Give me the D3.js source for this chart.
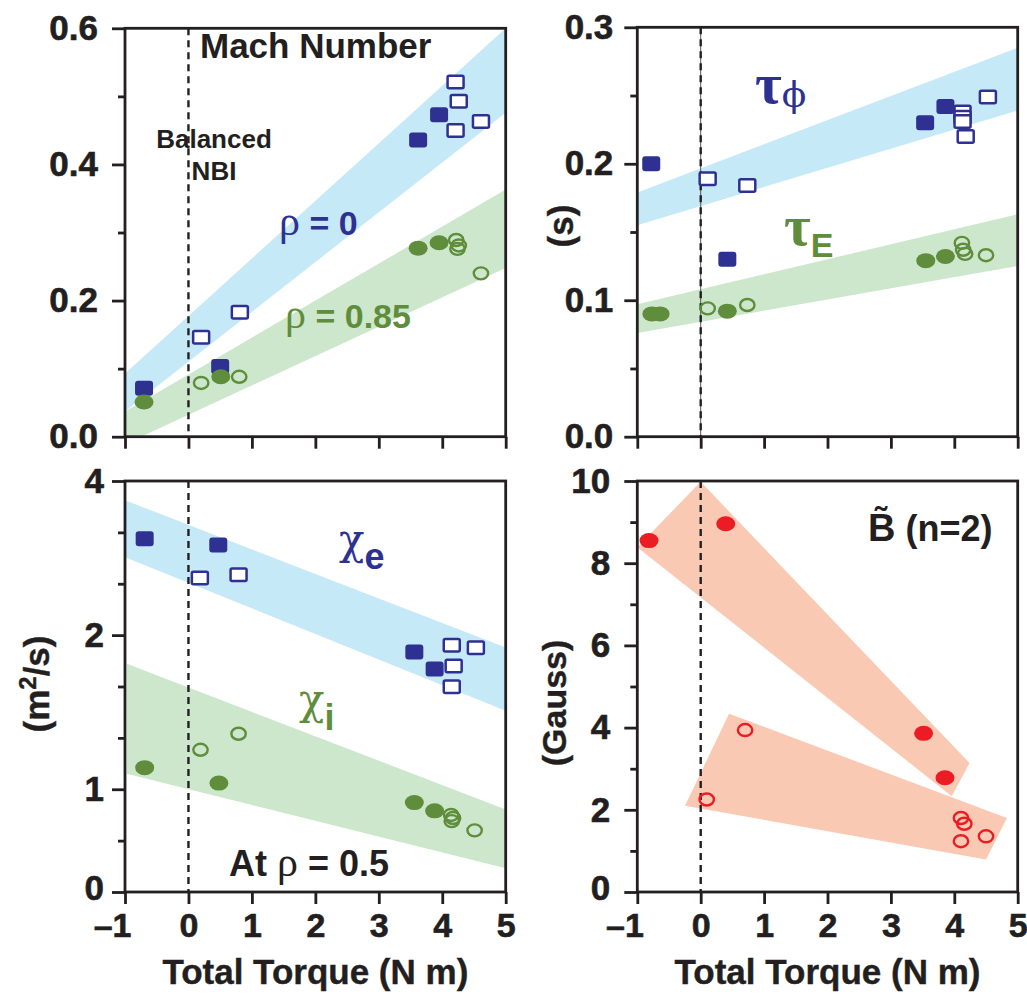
<!DOCTYPE html>
<html>
<head>
<meta charset="utf-8">
<script src="https://cdn.jsdelivr.net/npm/d3@7"></script>
<style>
  html, body { margin: 0; padding: 0; background: #fff; }
  svg { display: block; }
</style>
</head>
<body>
<svg id="chart" width="1027" height="1005"></svg>
<script>
// ---------- shared axis values ----------
const xTicks = [-1, 0, 1, 2, 3, 4, 5];

// ---------- Mach number (top left) ----------
const machYMajor = [0, 0.2, 0.4, 0.6];
const machYMinor = [0.1, 0.3, 0.5];
const machCoreFilledX = [-0.70, 0.50, 3.62, 3.95];
const machCoreFilledY = [0.071, 0.103, 0.436, 0.473];
const machCoreOpenX = [0.20, 0.81, 4.21, 4.26, 4.21, 4.61];
const machCoreOpenY = [0.146, 0.183, 0.521, 0.493, 0.450, 0.463];
const machEdgeFilledX = [-0.70, 0.51, 3.62, 3.95];
const machEdgeFilledY = [0.051, 0.088, 0.277, 0.285];
const machEdgeOpenX = [0.20, 0.80, 4.22, 4.26, 4.24, 4.61];
const machEdgeOpenY = [0.079, 0.088, 0.289, 0.281, 0.276, 0.240];
const machCoreBand = [[-1, 0.093], [5, 0.600], [5, 0.476], [-1, 0.037]];
const machEdgeBand = [[-1, 0.037], [5, 0.363], [5, 0.248], [-1, -0.011]];

// ---------- confinement times (top right) ----------
const tauYMajor = [0, 0.1, 0.2, 0.3];
const tauYMinor = [0.05, 0.15, 0.25];
const tauPhiFilledX = [-0.78, 0.42, 3.54, 3.86];
const tauPhiFilledY = [0.200, 0.130, 0.230, 0.242];
const tauPhiOpenX = [0.11, 0.735, 4.13, 4.13, 4.13, 4.18, 4.53];
const tauPhiOpenY = [0.189, 0.184, 0.238, 0.234, 0.231, 0.220, 0.249];
const tauEFilledX = [-0.77, -0.64, 0.42, 3.55, 3.86];
const tauEFilledY = [0.090, 0.090, 0.092, 0.129, 0.132];
const tauEOpenX = [0.11, 0.735, 4.12, 4.14, 4.17, 4.50];
const tauEOpenY = [0.094, 0.0965, 0.142, 0.137, 0.134, 0.133];
const tauPhiBand = [[-1, 0.179], [5, 0.285], [5, 0.239], [-1, 0.155]];
const tauEBand = [[-1, 0.097], [5, 0.163], [5, 0.125], [-1, 0.076]];

// ---------- diffusivities at rho = 0.5 (bottom left) ----------
const chiYMajor = [0, 1, 2, 4];
const chiYMinor = [0.5, 4 / 3, 5 / 3, 8 / 3, 10 / 3];
const chiEFilledX = [-0.69, 0.47, 3.56, 3.88];
const chiEFilledY = [3.25, 3.17, 1.89, 1.78];
const chiEOpenX = [0.18, 0.79, 4.15, 4.53, 4.18, 4.15];
const chiEOpenY = [2.74, 2.785, 1.935, 1.918, 1.80, 1.665];
const chiIFilledX = [-0.69, 0.48, 3.56, 3.88];
const chiIFilledY = [1.14, 1.04, 0.87, 0.79];
const chiIOpenX = [0.19, 0.79, 4.14, 4.17, 4.15, 4.51];
const chiIOpenY = [1.256, 1.36, 0.75, 0.72, 0.69, 0.60];
const chiEBand = [[-1, 3.75], [5, 1.92], [5, 1.51], [-1, 3.01]];
const chiIBand = [[-0.97, 1.814], [5, 0.803], [5, 0.23], [-0.97, 1.10]];

// ---------- n=2 mode amplitude (bottom right) ----------
const gaussYMajor = [0, 2, 4, 6, 8, 10];
const gaussYMinor = [1, 3, 5, 7, 9];
const modeFilledX = [-0.815, 0.395, 3.516, 3.853];
const modeFilledY = [8.55, 8.96, 3.86, 2.78];
const modeOpenX = [0.095, 0.70, 4.105, 4.158, 4.105, 4.50];
const modeOpenY = [2.25, 3.94, 1.80, 1.66, 1.236, 1.355];
const modeUpperBand = [[-1.0, 8.39], [0.0, 9.98], [4.24, 3.14], [3.96, 2.33]];
const modeLowerBand = [[0.447, 4.34], [4.83, 1.80], [4.50, 0.79], [-0.247, 2.10]];

// ---------- styling ----------
const INK = "#231f20";
const BLUE = "#2e3192";
const GREEN = "#5f8d3b";
const RED = "#ec1c24";
const BAND_BLUE = "#c6e9f8";
const BAND_GREEN = "#cde7cc";
const BAND_RED = "#f9c9b3";
const SANS = "'Liberation Sans', Arial, Helvetica, sans-serif";
const SERIF = "'Liberation Serif', 'Times New Roman', serif";
const GREEK = "'DejaVu Serif', 'Liberation Serif', serif";

const svg = d3.select("#chart");

const fmtX = v => (v < 0 ? "\u2013" + Math.abs(v) : String(v));

function makePanel(id, left, right, top, bottom, y) {
  const x = d3.scaleLinear().domain([-1, 5]).range([left, right]);
  svg.append("clipPath").attr("id", "clip-" + id)
    .append("rect").attr("x", left).attr("y", top)
    .attr("width", right - left).attr("height", bottom - top);
  const g = svg.append("g");
  const bands = g.append("g").attr("clip-path", `url(#clip-${id})`);
  const marks = g.append("g").attr("clip-path", `url(#clip-${id})`);
  const over = g.append("g");
  return { id, x, y, g, bands, marks, over, left, right, top, bottom };
}

function band(p, pts, color) {
  const line = d3.line().x(d => p.x(d[0])).y(d => p.y(d[1]));
  p.bands.append("path").attr("d", line(pts) + "Z").attr("fill", color);
}

function zeroLine(p, underlay) {
  if (underlay) {
    p.marks.append("line")
      .attr("x1", p.x(0)).attr("x2", p.x(0)).attr("y1", p.top).attr("y2", p.bottom)
      .attr("stroke", "#555").attr("stroke-width", 1);
  }
  p.marks.append("line")
    .attr("x1", p.x(0)).attr("x2", p.x(0)).attr("y1", p.top).attr("y2", p.bottom)
    .attr("stroke", INK).attr("stroke-width", 2.4).attr("stroke-dasharray", "7,5");
}

function squares(p, xs, ys, color, filled) {
  const data = d3.zip(xs, ys);
  const w = filled ? 18 : 16, h = filled ? 15 : 12.5;
  p.marks.selectAll(null).data(data).join("rect")
    .attr("x", d => p.x(d[0]) - w / 2).attr("y", d => p.y(d[1]) - h / 2)
    .attr("width", w).attr("height", h).attr("rx", filled ? 3 : 1.5)
    .attr("fill", filled ? color : "#fff")
    .attr("stroke", filled ? "none" : color).attr("stroke-width", 2.5);
}

function dots(p, xs, ys, color, filled) {
  const data = d3.zip(xs, ys);
  p.marks.selectAll(null).data(data).join("ellipse")
    .attr("cx", d => p.x(d[0])).attr("cy", d => p.y(d[1]))
    .attr("rx", filled ? 9.5 : 7.2).attr("ry", filled ? 7.5 : 6)
    .attr("fill", filled ? color : "none")
    .attr("stroke", filled ? "none" : color).attr("stroke-width", 2.4);
}

function axes(p, major, minor, fmt, pad, xLabels) {
  const ax = p.over;
  ax.append("rect")
    .attr("x", p.left).attr("y", p.top)
    .attr("width", p.right - p.left).attr("height", p.bottom - p.top)
    .attr("fill", "none").attr("stroke", INK).attr("stroke-width", 2.8);

  const yg = ax.append("g").attr("transform", `translate(${p.left},0)`)
    .call(d3.axisLeft(p.y).tickValues(major).tickSize(13).tickSizeOuter(0)
      .tickPadding(pad).tickFormat(fmt));
  yg.select(".domain").remove();

  const ym = ax.append("g").attr("transform", `translate(${p.left},0)`)
    .call(d3.axisLeft(p.y).tickValues(minor).tickSize(7).tickSizeOuter(0).tickFormat(""));
  ym.select(".domain").remove();

  const xg = ax.append("g").attr("transform", `translate(0,${p.bottom})`)
    .call(d3.axisBottom(p.x).tickValues(xTicks).tickSize(12).tickSizeOuter(0)
      .tickFormat(xLabels ? fmtX : ""));
  xg.select(".domain").remove();

  ax.selectAll(".tick line").attr("stroke", INK).attr("stroke-width", 2.8);
  ax.selectAll(".tick text")
    .attr("font-family", SANS).attr("font-weight", "bold")
    .attr("font-size", 35).attr("fill", INK)
    .attr("stroke", INK).attr("stroke-width", 0.6);
  if (xLabels) {
    // the zero label sits a little above its tick where it meets the torque labels
    yg.selectAll(".tick text").filter(d => d === 0).attr("dy", "0.2em");
  }
  xg.selectAll(".tick text").attr("font-size", 34).attr("y", 45).attr("dy", 0);
  xg.selectAll(".tick text").filter(d => d < 0).attr("text-anchor", "end").attr("x", 6);
}

function label(g, x, y, color, parts, anchor) {
  const t = g.append("text").attr("x", x).attr("y", y).attr("fill", color)
    .attr("text-anchor", anchor || "start");
  parts.forEach(([s, font, size, weight, dy]) => {
    t.append("tspan").attr("font-family", font).attr("font-size", size)
      .attr("font-weight", weight).attr("dy", dy || 0).text(s);
  });
  return t;
}

function yTitle(g, cx, cy, size, build) {
  const t = g.append("text")
    .attr("transform", `translate(${cx + 0.26 * size},${cy}) rotate(-90)`)
    .attr("text-anchor", "middle").attr("fill", INK)
    .attr("font-family", SANS).attr("font-weight", "bold").attr("font-size", size)
    .attr("stroke", INK).attr("stroke-width", 0.4);
  build(t);
}

// ---------- layout ----------
const L0 = 125, L1 = 505.7, R0 = 637.3, R1 = 1017.7;
const T0 = 28.3, T1 = 436.7, B0 = 481, B1 = 892;

// ---------- top left: Mach number ----------
const pMach = makePanel("mach", L0, L1, T0, T1,
  d3.scaleLinear().domain([0, 0.6]).range([T1, T0]));
band(pMach, machCoreBand, BAND_BLUE);
band(pMach, machEdgeBand, BAND_GREEN);
zeroLine(pMach, false);
squares(pMach, machCoreFilledX, machCoreFilledY, BLUE, true);
squares(pMach, machCoreOpenX, machCoreOpenY, BLUE, false);
dots(pMach, machEdgeFilledX, machEdgeFilledY, GREEN, true);
dots(pMach, machEdgeOpenX, machEdgeOpenY, GREEN, false);
axes(pMach, machYMajor, machYMinor, d3.format(".1f"), 14, false);
label(pMach.over, 200, 58, INK, [["Mach Number", SANS, 35, "bold"]]);
label(pMach.over, 214, 148, INK, [["Balanced", SANS, 26, "bold"]], "middle");
label(pMach.over, 214, 180, INK, [["NBI", SANS, 26, "bold"]], "middle");
label(pMach.over, 279, 235, BLUE, [["\u03c1", SERIF, 42, "normal"], [" = 0", SANS, 34, "bold"]]);
label(pMach.over, 285, 328, GREEN, [["\u03c1", SERIF, 42, "normal"], [" = 0.85", SANS, 34, "bold"]]);

// ---------- top right: confinement times ----------
const pTau = makePanel("tau", R0, R1, T0 - 1, T1,
  d3.scaleLinear().domain([0, 0.3]).range([T1, T0 - 1]));
band(pTau, tauPhiBand, BAND_BLUE);
band(pTau, tauEBand, BAND_GREEN);
zeroLine(pTau, true);
squares(pTau, tauPhiFilledX, tauPhiFilledY, BLUE, true);
squares(pTau, tauPhiOpenX, tauPhiOpenY, BLUE, false);
dots(pTau, tauEFilledX, tauEFilledY, GREEN, true);
dots(pTau, tauEOpenX, tauEOpenY, GREEN, false);
axes(pTau, tauYMajor, tauYMinor, d3.format(".1f"), 11, false);
label(pTau.over, 755, 103, BLUE, [["\u03c4", SERIF, 58, "bold"], ["\u03d5", GREEK, 36, "normal", 4]]);
label(pTau.over, 784, 245, GREEN, [["\u03c4", SERIF, 58, "bold"], ["E", SANS, 34, "bold", 12]]);
yTitle(pTau.over, 564, 226, 35, t => t.text("(s)"));

// ---------- bottom left: diffusivities (segmented vertical scale) ----------
const chiStep = (B1 - B0) / 8;
const pChi = makePanel("chi", L0, L1, B0, B1,
  d3.scaleLinear().domain([0, 1, 2, 4])
    .range([B1, B1 - 2 * chiStep, B1 - 5 * chiStep, B0]));
band(pChi, chiEBand, BAND_BLUE);
band(pChi, chiIBand, BAND_GREEN);
zeroLine(pChi, false);
squares(pChi, chiEFilledX, chiEFilledY, BLUE, true);
squares(pChi, chiEOpenX, chiEOpenY, BLUE, false);
dots(pChi, chiIFilledX, chiIFilledY, GREEN, true);
dots(pChi, chiIOpenX, chiIOpenY, GREEN, false);
axes(pChi, chiYMajor, chiYMinor, d3.format("d"), 8, true);
label(pChi.over, 339, 554, BLUE, [["\u03c7", GREEK, 42, "normal"], ["e", SANS, 36, "bold", 15]]);
label(pChi.over, 299, 714, GREEN, [["\u03c7", GREEK, 42, "normal"], ["i", SANS, 36, "bold", 16]]);
label(pChi.over, 229, 876, INK, [["At ", SANS, 36, "bold"], ["\u03c1", SERIF, 42, "normal"], [" = 0.5", SANS, 36, "bold"]]);
yTitle(pChi.over, 40, 684, 35, t => {
  t.append("tspan").text("(m");
  t.append("tspan").attr("font-size", 24).attr("dy", -13).text("2");
  t.append("tspan").attr("dy", 13).text("/s)");
});

// ---------- bottom right: n=2 mode amplitude ----------
const pMode = makePanel("mode", R0, R1, B0, B1,
  d3.scaleLinear().domain([0, 10]).range([B1, B0]));
band(pMode, modeUpperBand, BAND_RED);
band(pMode, modeLowerBand, BAND_RED);
zeroLine(pMode, false);
dots(pMode, modeFilledX, modeFilledY, RED, true);
dots(pMode, modeOpenX, modeOpenY, RED, false);
axes(pMode, gaussYMajor, gaussYMinor, d3.format("d"), 14, true);
label(pMode.over, 868, 541, INK, [["B\u0303", SANS, 38, "bold"], [" (n=2)", SANS, 36, "bold"]]);
yTitle(pMode.over, 557, 703, 34, t => t.text("(Gauss)"));

// ---------- shared x titles ----------
label(svg, (L0 + L1) / 2, 984, INK, [["Total Torque (N m)", SANS, 35, "bold"]], "middle")
  .attr("stroke", INK).attr("stroke-width", 0.4);
label(svg, (R0 + R1) / 2, 984, INK, [["Total Torque (N m)", SANS, 35, "bold"]], "middle")
  .attr("stroke", INK).attr("stroke-width", 0.4);
</script>
</body>
</html>
